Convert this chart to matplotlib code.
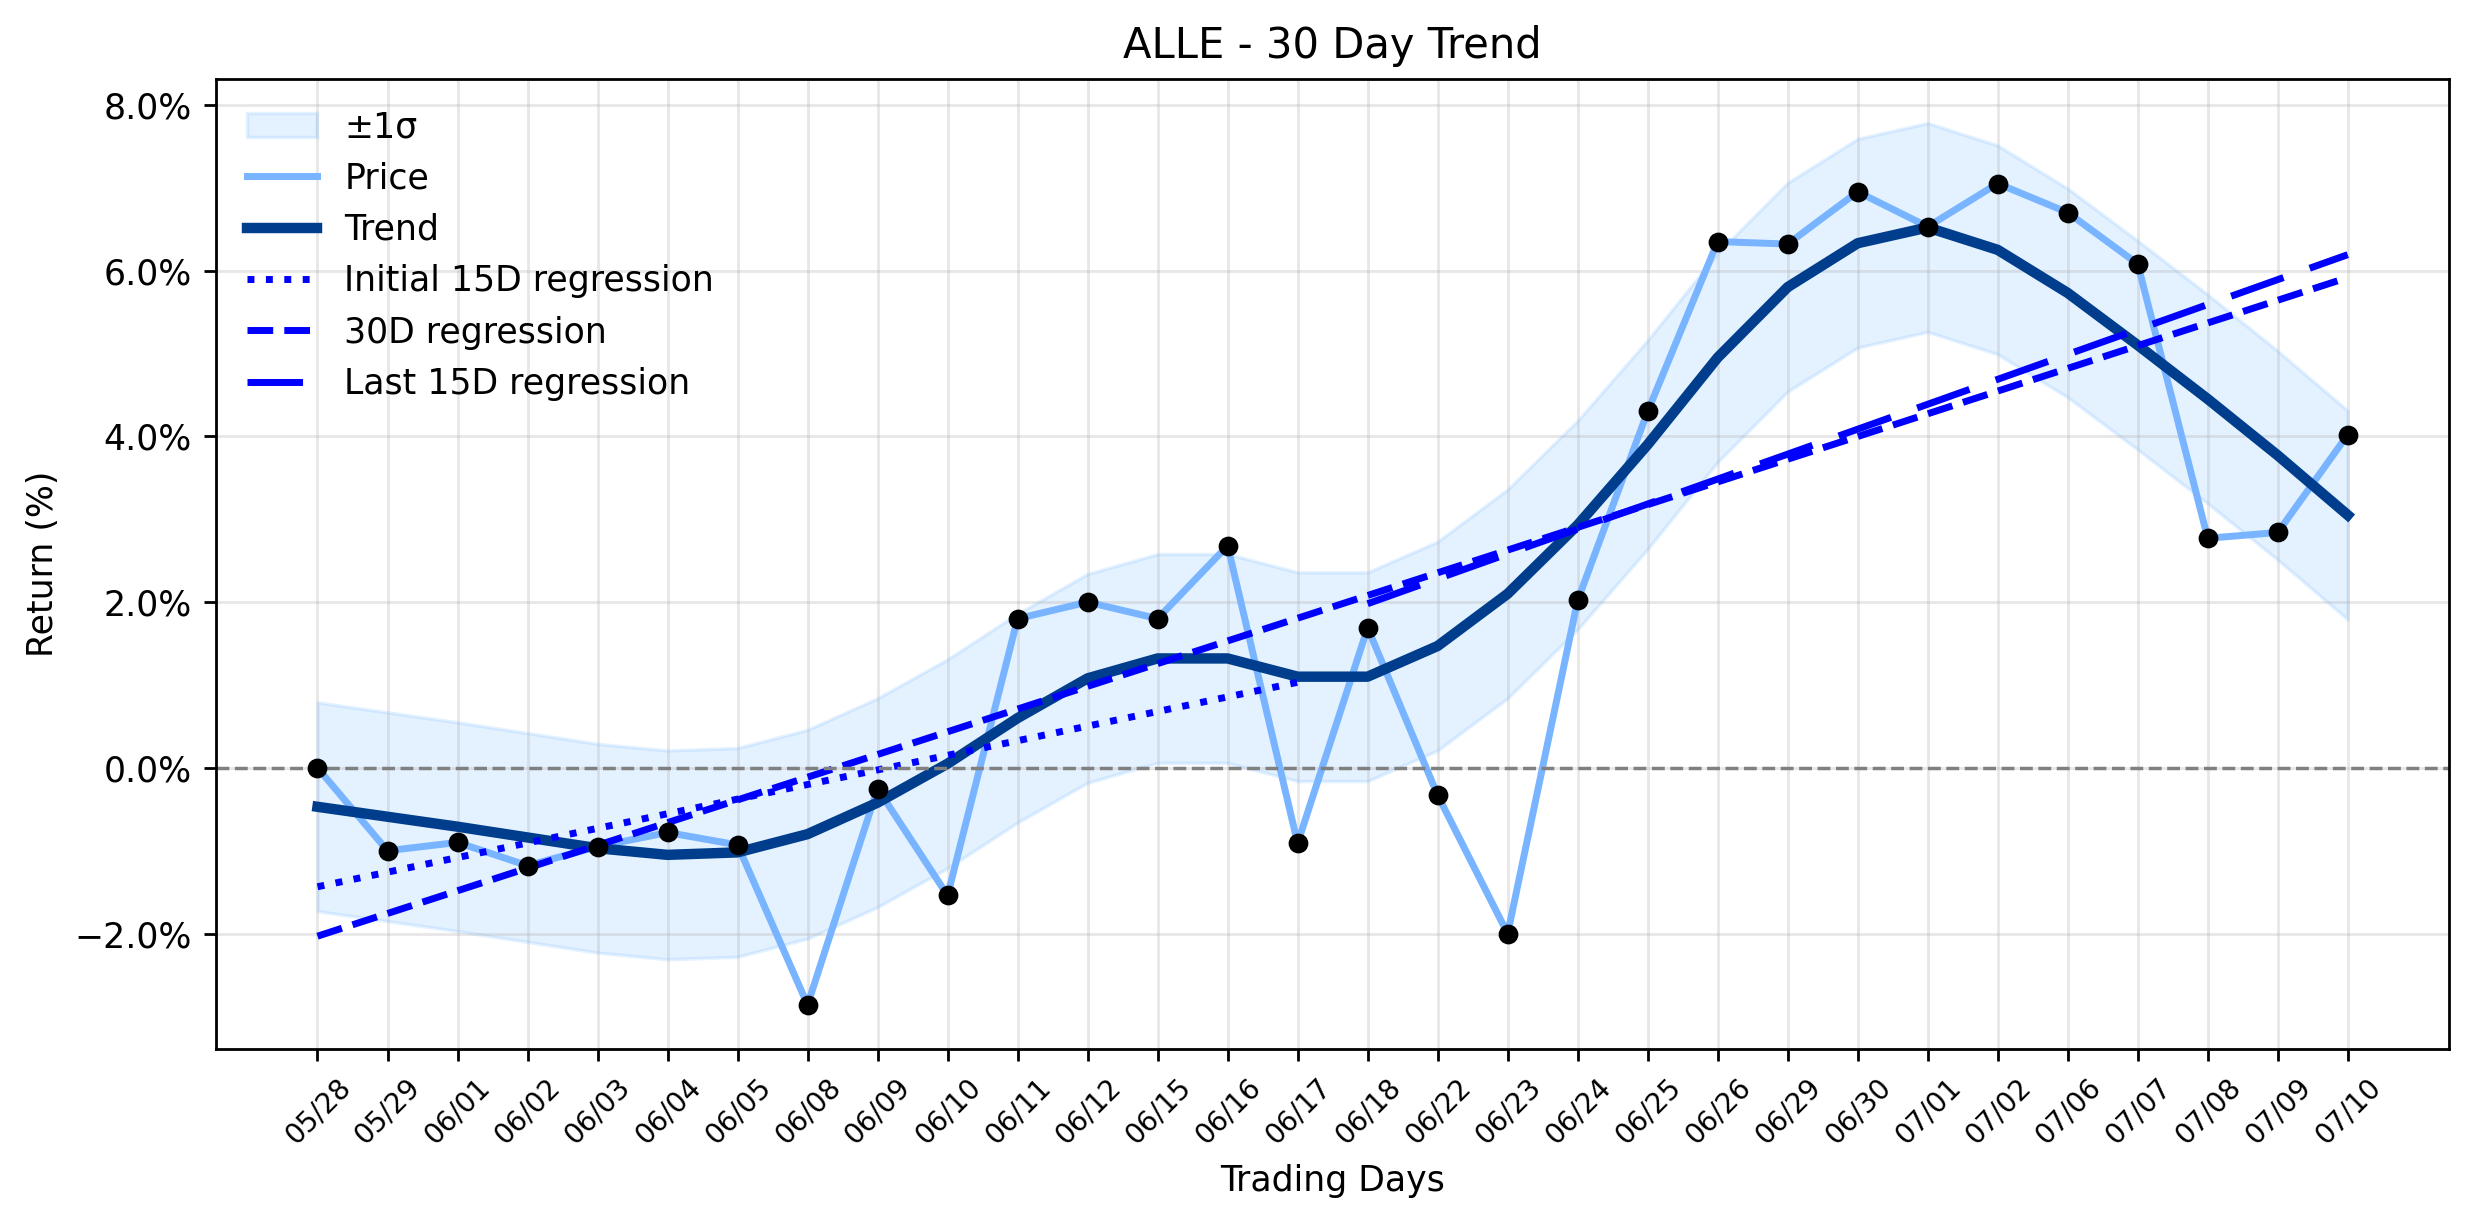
import numpy as np
import matplotlib
matplotlib.use("Agg")
import matplotlib.pyplot as plt
from matplotlib.ticker import FuncFormatter


dates = ["05/28", "05/29", "06/01", "06/02", "06/03", "06/04", "06/05", "06/08",
         "06/09", "06/10", "06/11", "06/12", "06/15", "06/16", "06/17", "06/18",
         "06/22", "06/23", "06/24", "06/25", "06/26", "06/29", "06/30", "07/01",
         "07/02", "07/06", "07/07", "07/08", "07/09", "07/10"]
price = [0.0, -1.0, -0.9, -1.18, -0.95, -0.78, -0.93, -2.86, -0.25, -1.54,
         1.8, 2.0, 1.8, 2.68, -0.91, 1.69, -0.33, -2.0, 2.02, 4.3,
         6.35, 6.32, 6.95, 6.53, 7.05, 6.7, 6.08, 2.77, 2.84, 4.02]
trend = [-0.47, -0.59, -0.71, -0.84, -0.97, -1.05, -1.02, -0.8, -0.42, 0.05,
         0.6, 1.08, 1.32, 1.32, 1.1, 1.1, 1.47, 2.1, 2.93, 3.9,
         4.95, 5.8, 6.33, 6.52, 6.25, 5.73, 5.1, 4.45, 3.77, 3.05]
sigma = 1.26

x = np.arange(len(dates))
price = np.array(price)
trend = np.array(trend)

fig, ax = plt.subplots(figsize=(9.896, 4.896), dpi=250)
fig.subplots_adjust(left=0.0873, right=0.990, top=0.9355, bottom=0.143)

ax.fill_between(x, trend - sigma, trend + sigma, color="#4da6ff", alpha=0.15, label="±1σ")
ax.plot(x, price, color="#78b4ff", linewidth=2, label="Price")
ax.plot(x, trend, color="#003d8c", linewidth=3, label="Trend")

# regressions on first 15, all 30, last 15 days
x1 = x[:15]
c1 = np.polyfit(x1, price[:15], 1)
ax.plot(x1, np.polyval(c1, x1), color="blue", linestyle=":", linewidth=2, label="Initial 15D regression")
c2 = np.polyfit(x, price, 1)
ax.plot(x, np.polyval(c2, x), color="blue", linestyle="--", linewidth=2, label="30D regression")
x3 = x[15:]
c3 = np.polyfit(x3, price[15:], 1)
ax.plot(x3, np.polyval(c3, x3), color="blue", linestyle=(0, (8, 4)), linewidth=2, label="Last 15D regression")

ax.scatter(x, price, color="black", s=22, zorder=5)
ax.axhline(0, color="gray", linestyle="--", linewidth=1)

ax.set_xticks(x)
ax.set_xticklabels(dates, rotation=45, fontsize=8)
ax.yaxis.set_major_formatter(FuncFormatter(lambda v, p: f"{v:.1f}%".replace("-", "\u2212")))
ax.grid(True, alpha=0.3)
ax.set_title("ALLE - 30 Day Trend", fontsize=12)
ax.set_xlabel("Trading Days")
ax.set_ylabel("Return (%)")
ax.legend(loc="upper left", frameon=False)

fig.savefig("out.png", dpi=250)
